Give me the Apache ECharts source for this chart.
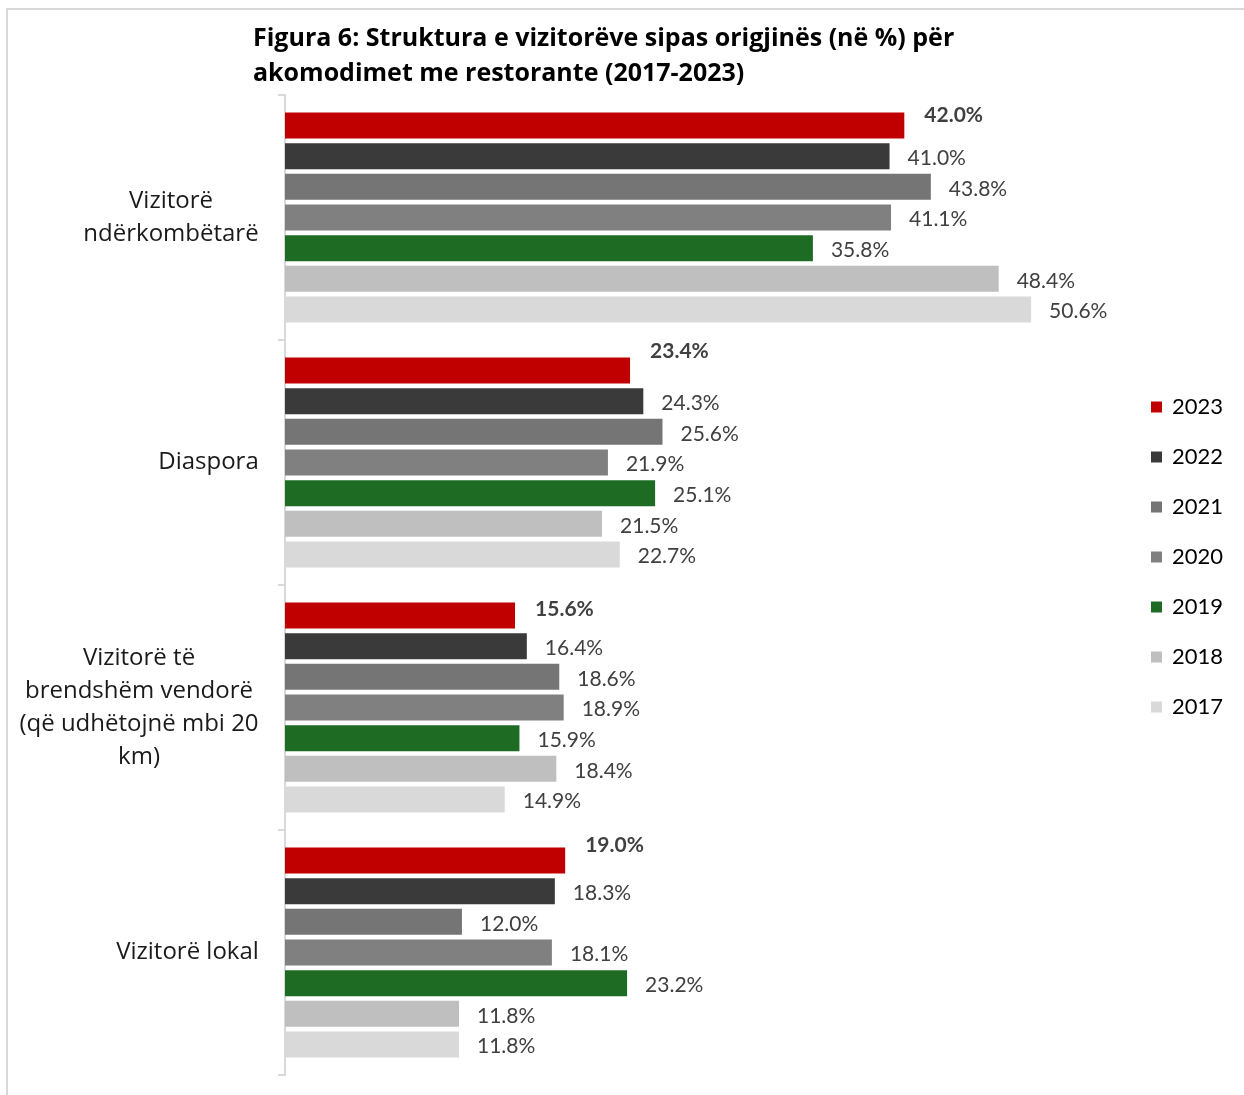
<!DOCTYPE html>
<html>
<head>
<meta charset="utf-8">
<script src="https://cdn.jsdelivr.net/npm/echarts@6/dist/echarts.min.js"></script>
<style>
html,body{margin:0;padding:0;background:#fff;}
#main{width:1244px;height:1095px;}
</style>
</head>
<body>
<div id="main"></div>
<script>
const categories = [
  'Vizitorë\nndërkombëtarë',
  'Diaspora',
  'Vizitorë të\nbrendshëm vendorë\n(që udhëtojnë mbi 20\nkm)',
  'Vizitorë lokal'
];
const years = ['2023', '2022', '2021', '2020', '2019', '2018', '2017'];
const v2023 = [42.0, 23.4, 15.6, 19.0];
const v2022 = [41.0, 24.3, 16.4, 18.3];
const v2021 = [43.8, 25.6, 18.6, 12.0];
const v2020 = [41.1, 21.9, 18.9, 18.1];
const v2019 = [35.8, 25.1, 15.9, 23.2];
const v2018 = [48.4, 21.5, 18.4, 11.8];
const v2017 = [50.6, 22.7, 14.9, 11.8];
const seriesValues = [v2023, v2022, v2021, v2020, v2019, v2018, v2017];
const titleText = 'Figura 6: Struktura e vizitorëve sipas origjinës (në %) për\nakomodimet me restorante (2017-2023)';

const colors = ['#C00000', '#3A3A3A', '#757575', '#808080', '#1E6B24', '#BFBFBF', '#D9D9D9'];
const FONT = 'Lato, "Open Sans", sans-serif';
const CAT_FONT = '"Open Sans", Lato, sans-serif';
const catFontSize = 24;

// measure label widths so that multi-line category labels are centred line by line
const cvs = document.createElement('canvas').getContext('2d');
cvs.font = catFontSize + 'px ' + CAT_FONT;
const rich = {};
categories.forEach((c, i) => {
  const w = Math.max(...c.split('\n').map(l => cvs.measureText(l).width));
  rich['c' + i] = {width: Math.ceil(w), align: 'center', fontSize: catFontSize, lineHeight: 33, color: '#1a1a1a', fontFamily: CAT_FONT};
});

// vertical nudges for the 2023 labels (as in the reference)
const dy2023 = [-10, -19, -6, -15];

const chart = echarts.init(document.getElementById('main'), null, {renderer: 'canvas'});
const option = {
  animation: false,
  textStyle: {fontFamily: FONT},
  title: {
    text: titleText,
    left: 253,
    top: 21,
    padding: 0,
    textStyle: {fontSize: 25, fontWeight: 'bold', color: '#000', lineHeight: 35, fontFamily: CAT_FONT}
  },
  legend: {
    orient: 'vertical',
    left: 1151,
    top: 396,
    padding: 0,
    icon: 'rect',
    itemWidth: 11,
    itemHeight: 11,
    itemGap: 28,
    data: years,
    textStyle: {fontSize: 22, lineHeight: 22, color: '#000', fontFamily: FONT, padding: [0, 0, 0, 5]}
  },
  grid: {left: 285, top: 95, height: 980, right: 148},
  xAxis: {
    type: 'value',
    min: 0,
    max: 55,
    show: false
  },
  yAxis: {
    type: 'category',
    inverse: true,
    data: categories,
    axisLine: {show: true, lineStyle: {color: '#D9D9D9', width: 2}},
    axisTick: {show: true, length: 7, lineStyle: {color: '#D9D9D9', width: 2}},
    axisLabel: {
      margin: 26,
      align: 'right',
      formatter: function (val, idx) {
        return val.split('\n').map(l => '{c' + idx + '|' + l + '}').join('\n');
      },
      rich: rich
    }
  },
  series: years.map((y, si) => ({
    name: y,
    type: 'bar',
    data: seriesValues[si],
    barWidth: 26,
    barGap: '18%',
    itemStyle: {color: colors[si]},
    label: {
      show: true,
      position: 'right',
      distance: si === 0 ? 20 : 18,
      formatter: p => p.value.toFixed(1) + '%',
      fontSize: 21,
      color: '#404040',
      fontWeight: si === 0 ? 'bold' : 'normal',
      fontFamily: FONT
    },
    labelLayout: si === 0 ? (p => ({dy: dy2023[p.dataIndex]})) : (p => ({dy: 2}))
  })),
  graphic: [{
    type: 'rect',
    shape: {x: 7, y: 9, width: 1300, height: 1200},
    style: {fill: 'none', stroke: '#D9D9D9', lineWidth: 2},
    silent: true
  }]
};
chart.setOption(option);
</script>
</body>
</html>
